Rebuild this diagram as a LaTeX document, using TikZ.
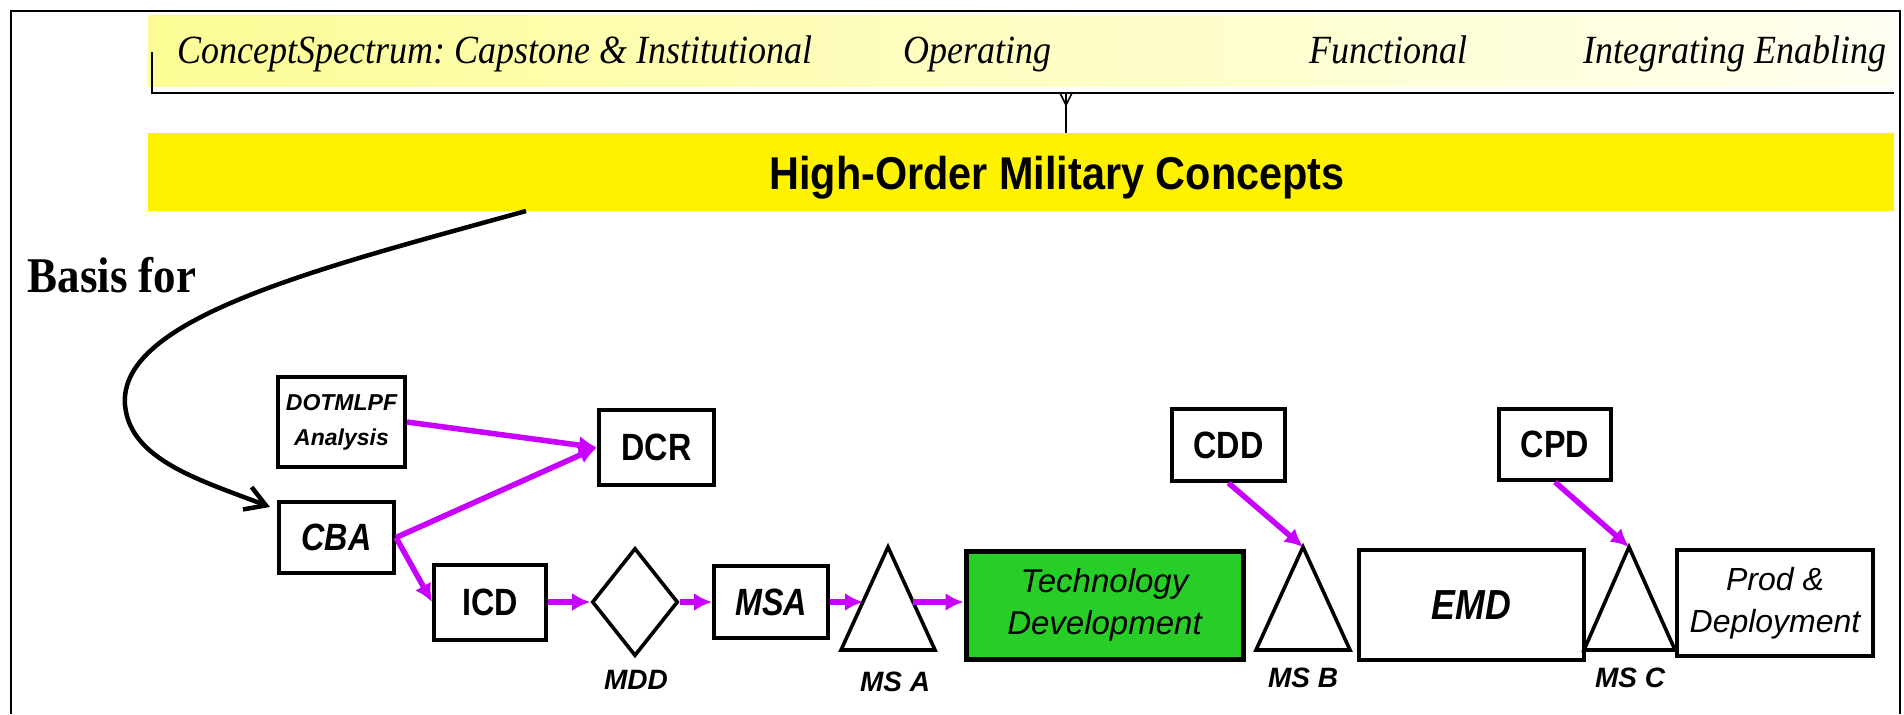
\documentclass[tikz,border=0pt]{standalone}
\usepackage{fontspec}
\setmainfont{Liberation Serif}
\setsansfont{Liberation Sans}
\newfontfamily\narrowsf[FakeStretch=0.85]{Liberation Sans}
\newfontfamily\titlesf[FakeStretch=0.9]{Liberation Sans}
\newfontfamily\narrowrm[FakeStretch=0.9]{Liberation Serif}
\usetikzlibrary{arrows.meta,shapes.geometric}
\definecolor{flowpurple}{RGB}{200,0,255}
\definecolor{techgreen}{RGB}{40,205,40}
\definecolor{paleyellow}{RGB}{252,252,150}
\begin{document}
\frenchspacing
\begin{tikzpicture}[x=0.5pt,y=-0.5pt,
  box/.style={draw,line width=2pt,inner sep=0pt,font=\narrowsf\bfseries\fontsize{19}{22}\selectfont},
  flow/.style={draw=flowpurple,line width=2.75pt,-{Latex[length=9pt,width=9pt]}},
  milestone/.style={draw,line width=1.8pt,line join=miter},
  mslabel/.style={font=\sffamily\bfseries\itshape\fontsize{14}{16}\selectfont},
  spectrum/.style={anchor=base west,font=\narrowrm\itshape\fontsize{20}{22}\selectfont}]
\useasboundingbox (0,0) rectangle (1904,714);
\fill[left color=paleyellow,right color=yellow!6] (148,15) rectangle (1894,86);
\fill[yellow] (148,133) rectangle (1894,211);
\draw[line width=1pt] (11,714) -- (11,11) -- (1900,11) -- (1900,714);
\draw[line width=1.25pt] (152,52) -- (152,93) -- (1894,93);
\draw[line width=0.8pt] (1060,93) -- (1066,105) -- (1072,93);
\draw[line width=0.8pt] (1066,93) -- (1066,133);
\node[spectrum] (capstone) at (170,63) {ConceptSpectrum: Capstone \& Institutional};
\node[spectrum] (operating) at (896,63) {Operating};
\node[spectrum] (functional) at (1302,63) {Functional};
\node[spectrum] (enabling) at (1576,63) {Integrating Enabling};
\node[anchor=base,font=\titlesf\bfseries\fontsize{23}{26}\selectfont] (hoc) at (1057,189) {High-Order Military Concepts};
\node[anchor=base,font=\narrowrm\bfseries\fontsize{25}{28}\selectfont] (basis) at (112,292) {Basis for};
\node[box,minimum width=63.5pt,minimum height=45pt,align=center,font=\sffamily\bfseries\itshape\fontsize{11.5}{17.5}\selectfont] (dotmlpf) at (341.5,422) {DOTMLPF\\Analysis};
\node[box,minimum width=57.5pt,minimum height=35.5pt,font=\narrowsf\bfseries\itshape\fontsize{19}{22}\selectfont] (cba) at (336.5,537.5) {CBA};
\node[box,minimum width=57.5pt,minimum height=37.5pt] (dcr) at (656.5,447.5) {DCR};
\node[box,minimum width=56pt,minimum height=37.5pt] (icd) at (490,602) {ICD};
\node[draw,diamond,line width=1.8pt,minimum width=43pt,minimum height=54pt,inner sep=0pt] (mdd) at (635,602) {};
\node[box,minimum width=57pt,minimum height=36pt,font=\narrowsf\bfseries\itshape\fontsize{19}{22}\selectfont] (msa) at (771,602) {MSA};
\node[box,fill=techgreen,line width=2.5pt,minimum width=138.5pt,minimum height=54pt,align=center,font=\sffamily\itshape\fontsize{16.5}{21}\selectfont] (techdev) at (1104.5,605) {Technology\\Development};
\node[box,minimum width=112.5pt,minimum height=55pt,font=\narrowsf\bfseries\itshape\fontsize{21}{24}\selectfont] (emd) at (1471.5,605) {EMD};
\node[box,minimum width=98pt,minimum height=53pt,align=center,font=\sffamily\itshape\fontsize{16}{21}\selectfont] (prod) at (1775,603) {Prod \&\\Deployment};
\node[box,minimum width=56.5pt,minimum height=36pt] (cdd) at (1228.5,445) {CDD};
\node[box,minimum width=56pt,minimum height=35.5pt] (cpd) at (1555,444.5) {CPD};
\coordinate (msAtop) at (888,547);
\coordinate (msAleft) at (841,650);
\coordinate (msAright) at (935,650);
\coordinate (msAin) at (863,602);
\coordinate (msAout) at (913,602);
\coordinate (msBtop) at (1303,547);
\coordinate (msBleft) at (1256,650);
\coordinate (msBright) at (1350,650);
\coordinate (msCtop) at (1629,547);
\coordinate (msCleft) at (1584,650);
\coordinate (msCright) at (1675,650);
\draw[milestone] (msAtop) -- (msAright) -- (msAleft) -- cycle;
\draw[milestone] (msBtop) -- (msBright) -- (msBleft) -- cycle;
\draw[milestone] (msCtop) -- (msCright) -- (msCleft) -- cycle;
\node[mslabel] (mddlabel) at (636,680) {MDD};
\node[mslabel] (msAlabel) at (895,682) {MS A};
\node[mslabel] (msBlabel) at (1303,678) {MS B};
\node[mslabel] (msClabel) at (1630,678) {MS C};
\draw[flow] (dotmlpf.east) -- (dcr.west);
\draw[flow] (cba.east) -- (dcr.west);
\draw[flow] (cba.east) -- (icd.west);
\draw[flow] (icd) -- (mdd);
\draw[flow] (mdd) -- (msa);
\draw[flow] (msa) -- (msAin);
\draw[flow] (msAout) -- (msAout -| techdev.west);
\draw[flow] (cdd.south) -- (msBtop);
\draw[flow] (cpd.south) -- (msCtop);
\coordinate (basisstart) at (526,211);
\coordinate (basisend) at (270,507);
\draw[line width=2.25pt,-{Straight Barb[length=10pt,width=12pt]}] (basisstart) .. controls (320,268) and (118,318) .. (125,405) .. controls (130,460) and (200,480) .. (basisend);
\end{tikzpicture}
\end{document}
